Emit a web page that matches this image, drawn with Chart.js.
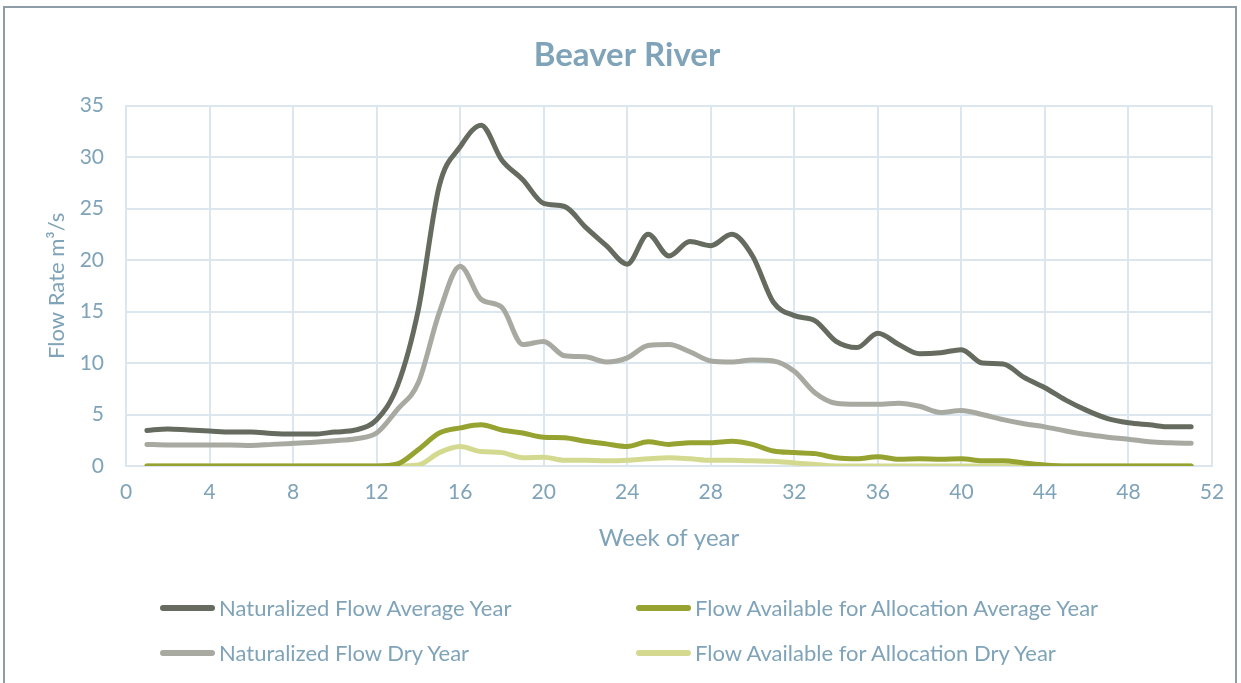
<!DOCTYPE html>
<html>
<head>
<meta charset="utf-8">
<script src="https://cdn.jsdelivr.net/npm/chart.js@4"></script>
<style>
  html, body { margin: 0; padding: 0; background: #fff; }
  #wrap { position: relative; width: 1241px; height: 683px; overflow: hidden; font-family: Lato, "Open Sans", sans-serif; }
  #frame { position: absolute; left: 3px; top: 6px; width: 1234px; height: 700px; border: 2px solid #8e9ca5; box-sizing: border-box; }
  #chart { position: absolute; left: 0; top: 0; }
  .leg { position: absolute; display: flex; align-items: center; color: #7fa3b8; font-size: 22px; white-space: nowrap; }
  .leg span.sw { display: inline-block; width: 55px; height: 6px; border-radius: 3px; margin-right: 4px; }
</style>
</head>
<body>
<div id="wrap">
  <div id="frame"></div>
  <canvas id="chart" width="1241" height="683"></canvas>
  <div id="legend"></div>
</div>
<script>
// weekly flow series, weeks 1..51
const weeks = Array.from({ length: 51 }, (_, i) => i + 1);

const natAverage = [
  3.45, 3.6, 3.5, 3.4, 3.3, 3.3, 3.15, 3.1, 3.1, 3.3,
  3.5, 4.5, 7.8, 15.2, 27.2, 31.0, 33.1, 29.7, 27.8, 25.5,
  25.2, 23.2, 21.4, 19.6, 22.5, 20.4, 21.8, 21.4, 22.5, 20.4,
  15.9, 14.6, 14.1, 12.1, 11.5, 12.9, 11.8, 10.9, 11.0, 11.3,
  10.0, 9.9, 8.6, 7.6, 6.4, 5.4, 4.6, 4.2, 4.0, 3.8, 3.8
];
const natDry = [
  2.1, 2.05, 2.05, 2.05, 2.05, 2.0, 2.1, 2.2, 2.3, 2.45,
  2.65, 3.2, 5.5, 8.1, 14.9, 19.4, 16.2, 15.4, 11.8, 12.1,
  10.7, 10.6, 10.1, 10.5, 11.7, 11.8, 11.1, 10.2, 10.1, 10.3,
  10.2, 9.2, 7.1, 6.1, 6.0, 6.0, 6.1, 5.8, 5.2, 5.4,
  5.0, 4.5, 4.1, 3.8, 3.4, 3.05, 2.8, 2.6, 2.35, 2.25, 2.2
];
const allocAverage = [
  0, 0, 0, 0, 0, 0, 0, 0, 0, 0,
  0, 0, 0.2, 1.6, 3.2, 3.7, 4.0, 3.5, 3.2, 2.8,
  2.75, 2.4, 2.15, 1.9, 2.35, 2.1, 2.25, 2.25, 2.4, 2.1,
  1.45, 1.3, 1.2, 0.8, 0.7, 0.9, 0.65, 0.7, 0.65, 0.7,
  0.5, 0.5, 0.3, 0.1, 0, 0, 0, 0, 0, 0, 0
];
const allocDry = [
  0, 0, 0, 0, 0, 0, 0, 0, 0, 0,
  0, 0, 0, 0.1, 1.3, 1.9, 1.4, 1.3, 0.8, 0.85,
  0.55, 0.55, 0.5, 0.55, 0.7, 0.8, 0.7, 0.55, 0.55, 0.5,
  0.45, 0.3, 0.15, 0, 0, 0, 0, 0, 0, 0,
  0, 0, 0, 0, 0, 0, 0, 0, 0, 0, 0
];

const seriesNames = [
  'Naturalized Flow Average Year',
  'Flow Available for Allocation Average Year',
  'Naturalized Flow Dry Year',
  'Flow Available for Allocation Dry Year'
];
const seriesValues = [natAverage, allocAverage, natDry, allocDry];
const seriesColors = ['#656b5e', '#96a330', '#a8aaa2', '#d3d98f'];

const textColor = '#7fa3b8';
const gridColor = '#dce6ef';
const baseFont = 'Lato, "Open Sans", sans-serif';

const datasets = seriesNames.map((name, i) => ({
  label: name,
  data: weeks.map((w, j) => ({ x: w, y: seriesValues[i][j] })),
  borderColor: seriesColors[i],
  backgroundColor: seriesColors[i],
  borderWidth: 5,
  borderCapStyle: 'round',
  pointRadius: 0,
  cubicInterpolationMode: 'monotone',
  fill: false
}));
// draw order: dry series underneath
datasets[0].order = 1;
datasets[1].order = 3;
datasets[2].order = 2;
datasets[3].order = 4;

new Chart(document.getElementById('chart'), {
  type: 'line',
  data: { datasets },
  options: {
    responsive: false,
    animation: false,
    layout: { padding: { left: 42, right: 29, top: 0, bottom: 126 } },
    plugins: {
      legend: { display: false },
      tooltip: { enabled: false },
      title: {
        display: true,
        text: 'Beaver River',
        color: textColor,
        font: { family: baseFont, size: 33, weight: 'bold' },
        padding: { top: 36, bottom: 30 }
      }
    },
    scales: {
      x: {
        type: 'linear',
        min: 0,
        max: 52,
        afterFit: s => { s.height = 91; },
        ticks: { stepSize: 4, color: textColor, font: { family: baseFont, size: 21 }, padding: 14, maxRotation: 0 },
        grid: { color: gridColor, lineWidth: 2, drawTicks: false },
        border: { color: gridColor, width: 2 },
        title: { display: true, text: 'Week of year', color: textColor, font: { family: baseFont, size: 24 }, padding: { top: 10 } }
      },
      y: {
        min: 0,
        max: 35,
        afterFit: s => { s.width = 84; },
        ticks: { stepSize: 5, color: textColor, font: { family: baseFont, size: 21 }, padding: 22 },
        grid: { color: gridColor, lineWidth: 2, drawTicks: false },
        border: { color: gridColor, width: 2 },
        title: { display: true, text: 'Flow Rate m³/s', color: textColor, font: { family: baseFont, size: 22 }, padding: { top: 2, bottom: 0 } }
      }
    }
  }
});

// two-column legend under the plot
const legendPos = [
  { left: 160, top: 608 },
  { left: 636, top: 608 },
  { left: 160, top: 653 },
  { left: 636, top: 653 }
];
const legend = document.getElementById('legend');
seriesNames.forEach((name, i) => {
  const item = document.createElement('div');
  item.className = 'leg';
  item.style.left = legendPos[i].left + 'px';
  item.style.top = (legendPos[i].top - 14) + 'px';
  item.innerHTML = '<span class="sw" style="background:' + seriesColors[i] + '"></span>' + name;
  legend.appendChild(item);
});
</script>
</body>
</html>
